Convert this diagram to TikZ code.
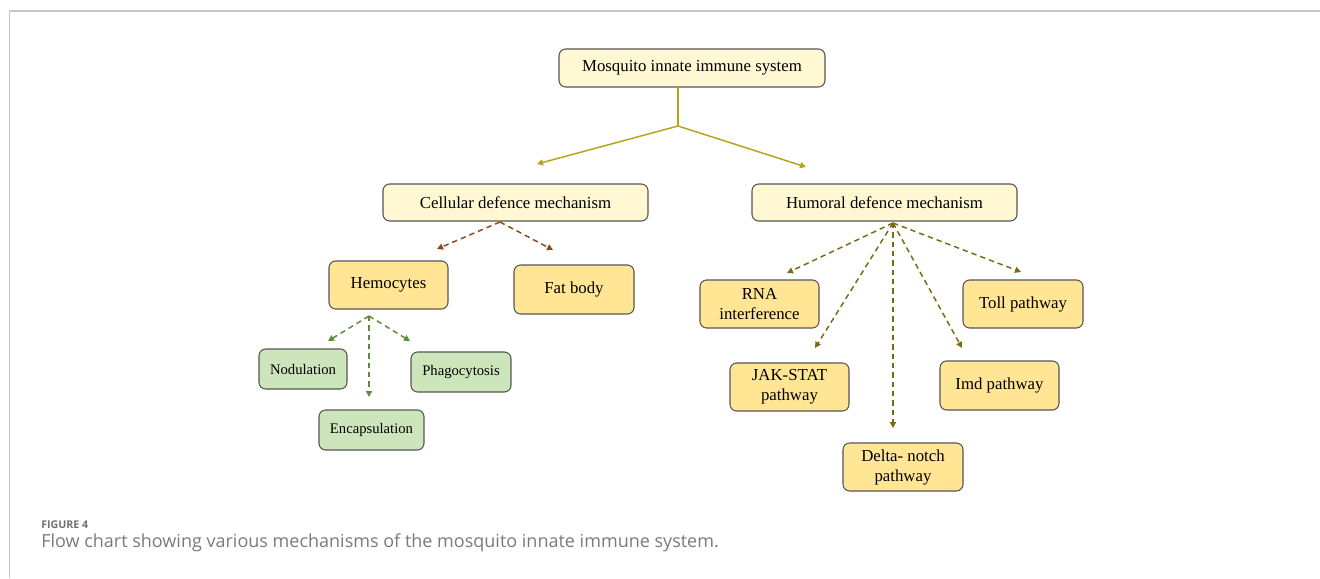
\documentclass[tikz,border=0pt]{standalone}
\usepackage{fontspec}
\setmainfont{Liberation Serif}
\newfontfamily\capfont{Open Sans}
\usetikzlibrary{arrows.meta}
\definecolor{paleyel}{HTML}{FFF8D2}
\definecolor{yel}{HTML}{FFE594}
\definecolor{grn}{HTML}{CCE5BB}
\definecolor{boxline}{HTML}{555555}
\definecolor{gold}{HTML}{B8A21A}
\definecolor{brownarr}{HTML}{8B4A1C}
\definecolor{grnarr}{HTML}{5F8A3C}
\definecolor{olivearr}{HTML}{7A6A12}
\definecolor{frame}{HTML}{C8C8C8}
\definecolor{captxt}{HTML}{7A7A7A}
\definecolor{figtxt}{HTML}{707070}
\tikzset{
  box/.style={draw=boxline, line width=0.8pt, rounded corners=5pt, inner sep=0pt, align=center, font=\fontsize{12.6}{15}\selectfont},
  toplevel/.style={box, fill=paleyel},
  midbox/.style={box, fill=yel},
  leafbox/.style={box, fill=grn, font=\fontsize{11}{13}\selectfont},
  tip/.style={-{Triangle[length=4.5pt,width=4.5pt]}},
  goldline/.style={draw=gold, line width=1.1pt},
  brownline/.style={draw=brownarr, line width=1.1pt, dash pattern=on 4pt off 3pt, tip},
  greenline/.style={draw=grnarr, line width=1.1pt, dash pattern=on 4pt off 3pt, tip},
  oliveline/.style={draw=olivearr, line width=1.1pt, dash pattern=on 4pt off 3pt, tip},
}
\begin{document}
\begin{tikzpicture}[x=0.75pt, y=-0.75pt]
\useasboundingbox (0,0) rectangle (1320,578);
\draw[frame, line width=0.8pt] (9.5,578) -- (9.5,11) -- (1320,11);

% nodes
\node[toplevel, minimum width=266*0.75pt, minimum height=38*0.75pt] (top) at (692,68) {Mosquito innate immune system};
\node[toplevel, minimum width=265*0.75pt, minimum height=37*0.75pt] (cell) at (515.5,202.5) {Cellular defence mechanism};
\node[toplevel, minimum width=265*0.75pt, minimum height=37*0.75pt] (hum) at (884.5,202.5) {Humoral defence mechanism};
\node[midbox, minimum width=119*0.75pt, minimum height=48*0.75pt] (hemo) at (388.5,285) {Hemocytes};
\node[midbox, minimum width=120*0.75pt, minimum height=49*0.75pt] (fat) at (574,289.5) {Fat body};
\node[leafbox, minimum width=88*0.75pt, minimum height=40*0.75pt] (nod) at (303,369) {Nodulation};
\node[leafbox, minimum width=105*0.75pt, minimum height=40*0.75pt] (enc) at (371.5,430) {Encapsulation};
\node[leafbox, minimum width=100*0.75pt, minimum height=40*0.75pt] (pha) at (461,372) {Phagocytosis};
\node[midbox, minimum width=119*0.75pt, minimum height=48*0.75pt] (rna) at (759.5,304) {RNA\\interference};
\node[midbox, minimum width=119*0.75pt, minimum height=48*0.75pt] (jak) at (789.5,387) {JAK-STAT\\pathway};
\node[midbox, minimum width=120*0.75pt, minimum height=48*0.75pt] (delta) at (903,467) {Delta- notch\\pathway};
\node[midbox, minimum width=119*0.75pt, minimum height=49*0.75pt] (imd) at (999.5,385.5) {Imd pathway};
\node[midbox, minimum width=120*0.75pt, minimum height=48*0.75pt] (toll) at (1023,304) {Toll pathway};

% top connector
\coordinate (tstart) at (678,87);
\coordinate (split) at (678,126);
\coordinate (tl) at (537,164);
\coordinate (tr) at (806,167);
\draw[goldline] (tstart) -- (split);
\draw[goldline, tip] (split) -- (tl);
\draw[goldline, tip] (split) -- (tr);

% cellular
\coordinate (cs) at (500,222);
\coordinate (ce1) at (437,249);
\coordinate (ce2) at (553,250);
\draw[brownline] (cs) -- (ce1);
\draw[brownline] (cs) -- (ce2);

% hemocytes
\coordinate (hs) at (369,316);
\coordinate (he1) at (328,341);
\coordinate (he2) at (369,397);
\coordinate (he3) at (410,341);
\draw[greenline] (hs) -- (he1);
\draw[greenline] (hs) -- (he2);
\draw[greenline] (hs) -- (he3);

% humoral
\coordinate (us) at (893,223);
\coordinate (ue1) at (787,273);
\coordinate (ue2) at (815,348);
\coordinate (ue3) at (893,428);
\coordinate (ue4) at (962,348);
\coordinate (ue5) at (1021,272);
\foreach \e in {ue1,ue2,ue3,ue4,ue5} \draw[oliveline] (us) -- (\e);

% caption
\node[anchor=base west, inner sep=0pt, text=figtxt, font=\capfont\bfseries\fontsize{8}{10}\selectfont] (figlab) at (41,528) {FIGURE 4};
\node[anchor=base west, inner sep=0pt, text=captxt, font=\capfont\fontsize{13.5}{15}\selectfont] (cap) at (41,547) {Flow chart showing various mechanisms of the mosquito innate immune system.};
\end{tikzpicture}
\end{document}
